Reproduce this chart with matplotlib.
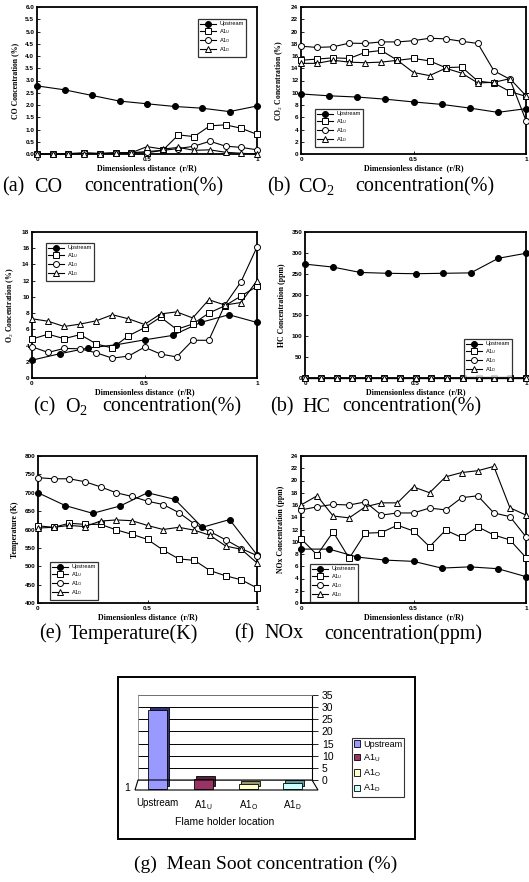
import matplotlib
matplotlib.use("Agg")
import matplotlib.pyplot as plt
import matplotlib.transforms as mtransforms
from matplotlib.patches import Rectangle, Polygon

plt.rcParams['mathtext.fontset'] = 'custom'
plt.rcParams['mathtext.rm'] = 'Liberation Serif'
plt.rcParams['mathtext.bf'] = 'Liberation Serif:bold'
plt.rcParams['mathtext.sf'] = 'Liberation Sans'

W, H = 529, 882

# --- x positions (r/R) ---
x9 = [0, 0.125, 0.25, 0.375, 0.5, 0.625, 0.75, 0.875, 1.0]
x15 = [0, 0.0714, 0.1429, 0.2143, 0.2857, 0.3571, 0.4286, 0.5,
       0.5714, 0.6429, 0.7143, 0.7857, 0.8571, 0.9286, 1.0]

# (a) CO (%)
co_up = [2.78, 2.62, 2.39, 2.16, 2.05, 1.94, 1.87, 1.73, 1.96]
co_a1u = [0.0, 0.0, 0.02, 0.05, 0.02, 0.04, 0.05, 0.05, 0.15, 0.78, 0.71, 1.15, 1.19, 1.05, 0.80]
co_a1o = [0.0, 0.0, 0.0, 0.03, 0.02, 0.05, 0.05, 0.10, 0.15, 0.22, 0.32, 0.52, 0.32, 0.27, 0.17]
co_a1d = [0.0, 0.0, 0.0, 0.02, 0.02, 0.03, 0.05, 0.30, 0.20, 0.27, 0.15, 0.17, 0.07, 0.03, 0.0]

# (b) CO2 (%)
co2_up = [9.8, 9.5, 9.3, 8.95, 8.5, 8.1, 7.5, 6.8, 7.4]
co2_a1u = [15.3, 15.5, 15.7, 15.6, 16.6, 16.9, 15.3, 15.6, 15.2, 14.1, 14.2, 11.9, 11.6, 10.2, 9.4]
co2_a1o = [17.6, 17.4, 17.5, 18.1, 18.05, 18.3, 18.3, 18.5, 18.9, 18.8, 18.4, 18.05, 13.6, 12.2, 5.45]
co2_a1d = [14.8, 14.8, 15.3, 15.0, 14.9, 15.0, 15.3, 13.3, 12.8, 14.0, 13.2, 11.6, 11.7, 12.3, 9.5]

# (c) O2 (%)
o2_up = [2.2, 3.0, 3.7, 4.1, 4.7, 5.25, 6.85, 7.8, 6.85]
o2_a1u = [4.8, 5.4, 4.85, 5.35, 4.2, 3.7, 5.2, 6.2, 7.5, 6.0, 6.65, 8.0, 8.9, 10.1, 11.3]
o2_a1o = [3.85, 3.15, 3.65, 3.6, 3.1, 2.45, 2.7, 3.8, 2.95, 2.6, 4.65, 4.65, 9.0, 11.85, 16.15]
o2_a1d = [7.3, 7.0, 6.35, 6.65, 7.05, 7.8, 7.3, 6.6, 7.9, 8.15, 7.4, 9.65, 9.0, 9.3, 12.0]

# (d) HC (ppm)
hc_up = [273, 266, 253, 251, 250, 251, 252, 287, 299]
hc_a1u = [0] * 15
hc_a1o = [0] * 15
hc_a1d = [0] * 15

# (e) Temperature (K)
t_up = [700, 665, 644, 664, 700, 682, 606, 627, 531]
t_a1u = [610, 606, 617, 614, 614, 599, 587, 573, 544, 520, 516, 488, 474, 463, 441]
t_a1o = [741, 738, 738, 730, 716, 700, 690, 677, 668, 646, 615, 594, 572, 548, 529]
t_a1d = [604, 606, 611, 608, 623, 626, 624, 611, 600, 606, 598, 584, 555, 546, 509]

# (f) NOx (ppm)
nox_up = [8.8, 8.8, 7.5, 7.0, 6.8, 5.7, 5.9, 5.6, 4.3]
nox_a1u = [10.5, 7.85, 11.6, 7.3, 11.4, 11.5, 12.7, 11.75, 9.2, 11.9, 10.7, 12.45, 11.1, 10.3, 7.4]
nox_a1o = [15.2, 15.7, 16.1, 16.0, 16.5, 14.35, 14.7, 14.7, 15.5, 15.2, 17.2, 17.5, 14.7, 14.1, 10.8]
nox_a1d = [16.0, 17.5, 14.2, 13.9, 15.7, 16.35, 16.35, 18.95, 18.0, 20.6, 21.3, 21.6, 22.3, 15.55, 14.35]

# (g) mean soot (%)
soot_labels = ['Upstream', 'A1$_\\mathsf{U}$', 'A1$_\\mathsf{O}$', 'A1$_\\mathsf{D}$']
soot_values = [32.5, 4.0, 2.0, 2.5]
soot_colors = ['#9999FF', '#993366', '#FFFFCC', '#CCFFFF']
soot_tops = ['#333377', '#5c1f3d', '#99996b', '#5f9999']

legend_labels = ['Upstream', 'A1$_\\mathsf{U}$', 'A1$_\\mathsf{O}$', 'A1$_\\mathsf{D}$']
styles = [('o', 'black'), ('s', 'white'), ('o', 'white'), ('^', 'white')]

fig = plt.figure(figsize=(W / 100, H / 100), dpi=100)


def frect(l, t, r, b):
    return [l / W, 1 - b / H, (r - l) / W, (b - t) / H]


def panel(box, series, ylim, yticks, ylabel, yfmt, leg_xy):
    ax = fig.add_axes(frect(*box))
    for (xs, ys), (m, fc), lab in zip(series, styles, legend_labels):
        ms = 4.6 if m == 's' else 4.3
        ax.plot(xs, ys, color='black', lw=0.8, marker=m, ms=ms, mfc=fc,
                mec='black', mew=0.7, label=lab, clip_on=False, zorder=3)
    ax.set_xlim(0, 1)
    ax.set_ylim(*ylim)
    ax.set_xticks([0, 0.5, 1])
    ax.set_xticklabels(['0', '0.5', '1'])
    ax.set_yticks(yticks)
    ax.set_yticklabels([yfmt.format(v) for v in yticks])
    for s in ax.spines.values():
        s.set_linewidth(1.3)
    ax.tick_params(direction='in', length=2.5, width=0.6, pad=2)
    for lbl in ax.get_xticklabels() + ax.get_yticklabels():
        lbl.set_fontfamily('Liberation Sans')
        lbl.set_fontweight('bold')
        lbl.set_fontsize(4.6)
    ax.set_xlabel('Dimensionless distance  (r/R)', family='Liberation Serif',
                  fontweight='bold', fontsize=5.8, labelpad=2)
    ax.set_ylabel(ylabel, family='Liberation Serif', fontweight='bold',
                  fontsize=5.6, labelpad=4)
    leg = ax.legend(loc='upper left', bbox_to_anchor=(leg_xy[0] / W, 1 - leg_xy[1] / H),
                    bbox_transform=fig.transFigure, frameon=True,
                    fancybox=False, edgecolor='black', handlelength=2.8, handleheight=0.5,
                    borderpad=0.45, labelspacing=0.05, handletextpad=0.5,
                    prop={'family': 'Liberation Sans', 'size': 4.1})
    leg.get_frame().set_linewidth(0.9)
    return ax


panel((37, 7, 257, 154), [(x9, co_up), (x15, co_a1u), (x15, co_a1o), (x15, co_a1d)],
      (0, 6), [i * 0.5 for i in range(13)], 'CO Concentration (%)', '{:.1f}', (195, 16))
panel((301, 7, 526, 154), [(x9, co2_up), (x15, co2_a1u), (x15, co2_a1o), (x15, co2_a1d)],
      (0, 24), list(range(0, 25, 2)), 'CO$_2$ Concentration (%)', '{:d}', (312, 106))
panel((32, 232, 257, 378), [(x9, o2_up), (x15, o2_a1u), (x15, o2_a1o), (x15, o2_a1d)],
      (0, 18), list(range(0, 19, 2)), 'O$_2$ Concentration (%)', '{:d}', (43, 240))
panel((305, 232, 526, 378), [(x9, hc_up), (x15, hc_a1u), (x15, hc_a1o), (x15, hc_a1d)],
      (0, 350), list(range(0, 351, 50)), 'HC Concentration (ppm)', '{:d}', (461, 336))
panel((38, 456, 257, 603), [(x9, t_up), (x15, t_a1u), (x15, t_a1o), (x15, t_a1d)],
      (400, 800), list(range(400, 801, 50)), 'Temperature (K)', '{:d}', (47, 559))
panel((301, 456, 526, 603), [(x9, nox_up), (x15, nox_a1u), (x15, nox_a1o), (x15, nox_a1d)],
      (0, 24), list(range(0, 25, 2)), 'NOx Concentration (ppm)', '{:d}', (307, 561))

# captions, word by word as in the (justified) original
cap = dict(family='Liberation Serif', fontsize=14.5, va='center', ha='left')
captions = [
    (187, [(2, '(a)'), (34, 'CO'), (84, 'concentration(%)'),
           (267, '(b)'), (298, 'CO$_2$'), (355, 'concentration(%)')]),
    (407, [(33, '(c)'), (65, 'O$_2$'), (102, 'concentration(%)'),
           (270, '(b)'), (302, 'HC'), (342, 'concentration(%)')]),
    (634, [(39, '(e)'), (69, 'Temperature(K)'), (234, '(f)'), (264, 'NOx'),
           (324, 'concentration(ppm)')]),
]
for y, parts in captions:
    for x, s in parts:
        fig.text(x / W, 1 - y / H, s, **cap)
fig.text(266 / W, 1 - 864 / H, '(g)  Mean Soot concentration (%)',
         family='Liberation Serif', fontsize=14, va='center', ha='center')

# (g) pseudo-3D bar chart
fig.add_artist(Rectangle((118 / W, 1 - 839 / H), (415 - 118) / W, (839 - 677) / H,
                         transform=fig.transFigure, fill=False, lw=1.4, ec='black'))
axg = fig.add_axes(frect(138, 695, 312, 780))
axg.set_xlim(0, 4)
axg.set_ylim(0, 35)
axg.yaxis.tick_right()
axg.set_yticks(range(0, 36, 5))
axg.yaxis.grid(True, color='black', lw=0.7)
axg.set_axisbelow(True)
for side in ['top', 'left', 'bottom']:
    axg.spines[side].set_color('#888888')
    axg.spines[side].set_linewidth(0.6)
axg.spines['right'].set_linewidth(0.8)
axg.tick_params(axis='y', length=4, width=0.6, pad=3, labelsize=7.5)
for lbl in axg.get_yticklabels():
    lbl.set_fontfamily('Liberation Sans')

centers = [0.45, 1.5, 2.54, 3.55]
front = mtransforms.offset_copy(axg.transData, fig=fig, x=0, y=-9, units='dots')
back = mtransforms.offset_copy(axg.transData, fig=fig, x=2, y=-6, units='dots')
axg.bar(centers, soot_values, width=0.44, color=soot_tops, edgecolor='black',
        lw=0.6, transform=back, clip_on=False, zorder=3)
axg.bar(centers, soot_values, width=0.44, color=soot_colors, edgecolor='black',
        lw=0.6, transform=front, clip_on=False, zorder=4)

axg.set_xticks(centers)
axg.set_xticklabels(soot_labels, family='Liberation Sans', fontsize=7)
axg.tick_params(axis='x', length=0, pad=13)
axg.set_xlabel('Flame holder location', family='Liberation Sans', fontsize=7.5, labelpad=4)

# floor outline
floor = [(135, 790), (318, 790), (312, 780), (138, 780)]
fig.add_artist(Polygon([(px / W, 1 - py / H) for px, py in floor], closed=True,
                       transform=fig.transFigure, fill=False, lw=0.8, ec='black'))
fig.text(127 / W, 1 - 788 / H, '1', family='Liberation Sans', fontsize=7.5,
         ha='center', va='center')

handles = [Rectangle((0, 0), 1, 1, fc=c, ec='black', lw=0.6) for c in soot_colors]
legg = fig.legend(handles, soot_labels,
                  loc='upper left', bbox_to_anchor=(347 / W, 1 - 733 / H),
                  fancybox=False, edgecolor='black', handlelength=0.7, handleheight=0.7,
                  handletextpad=0.3, borderpad=0.25, labelspacing=0.3,
                  prop={'family': 'Liberation Sans', 'size': 6.5})
legg.get_frame().set_linewidth(0.8)

fig.savefig('out.png', dpi=100)
